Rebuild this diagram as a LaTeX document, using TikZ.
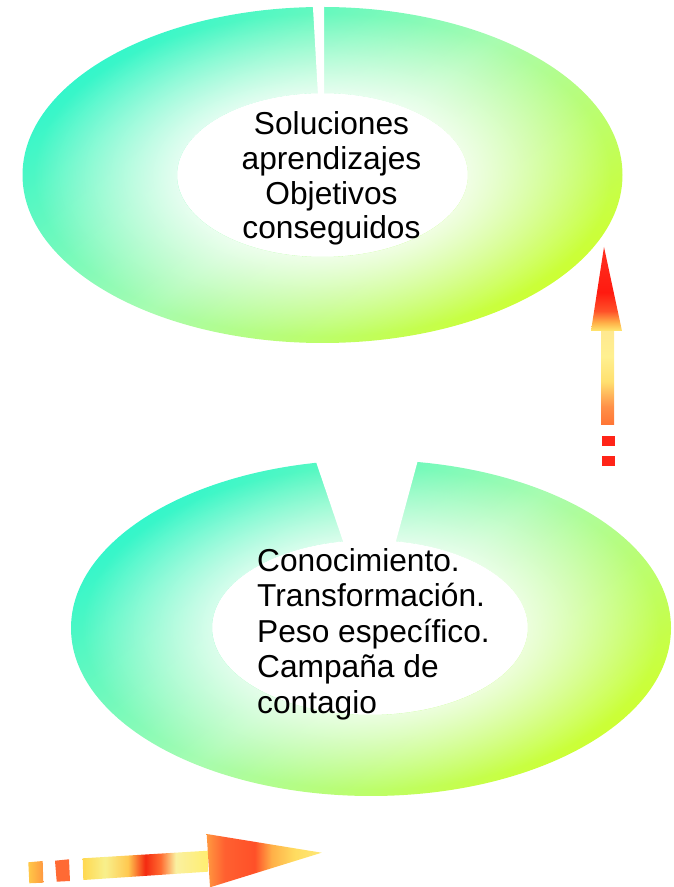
\documentclass[tikz,border=0pt]{standalone}
\usepackage{fontspec}
\setmainfont{Liberation Sans}
\usetikzlibrary{fadings}
\definecolor{ringA}{HTML}{34F6CA}
\definecolor{ringM}{HTML}{A8FCB0}
\definecolor{ringB}{HTML}{CCFF34}
\definecolor{arRed}{HTML}{FF2418}
\definecolor{vA}{HTML}{FFE870}
\definecolor{vB}{HTML}{FFB048}
\definecolor{vC}{HTML}{FF5028}
\definecolor{vD}{HTML}{FF1A10}
\definecolor{vE}{HTML}{FF3020}
\definecolor{sA}{HTML}{FF7434}
\definecolor{sB}{HTML}{FF9048}
\definecolor{sC}{HTML}{FFE070}
\definecolor{sD}{HTML}{FFF090}
\definecolor{sE}{HTML}{FFE890}
\definecolor{hA}{HTML}{FFD850}
\definecolor{hB}{HTML}{F8F08C}
\definecolor{hC}{HTML}{FFC850}
\definecolor{hD}{HTML}{F42A10}
\definecolor{hE}{HTML}{FF6A30}
\definecolor{hF}{HTML}{FAF0A0}
\definecolor{hG}{HTML}{FFEE70}
\definecolor{kA}{HTML}{FF9840}
\definecolor{kB}{HTML}{FF6030}
\definecolor{kC}{HTML}{FF5028}
\definecolor{kD}{HTML}{FFB048}
\definecolor{kE}{HTML}{FFDC60}
\definecolor{kF}{HTML}{FFE878}
\definecolor{dA}{HTML}{FFC848}
\definecolor{dB}{HTML}{FF6A34}
\pgfdeclareverticalshading{vhead}{100bp}{color(0bp)=(vA); color(25bp)=(vA); color(30bp)=(vB); color(37bp)=(vC); color(48bp)=(vD); color(75bp)=(vE); color(100bp)=(vE)}
\pgfdeclareverticalshading{vshaft}{100bp}{color(0bp)=(sA); color(25bp)=(sA); color(34.6bp)=(sB); color(47.9bp)=(sC); color(61.2bp)=(sD); color(75bp)=(sE); color(100bp)=(sE)}
\pgfdeclarehorizontalshading{hshaft}{100bp}{color(0bp)=(hA); color(25bp)=(hA); color(33.9bp)=(hB); color(43.1bp)=(hC); color(50bp)=(hD); color(56bp)=(hE); color(62.1bp)=(hF); color(75bp)=(hG); color(100bp)=(hG)}
\pgfdeclarehorizontalshading{hhead}{100bp}{color(0bp)=(kA); color(25bp)=(kA); color(32.8bp)=(kB); color(45.9bp)=(kC); color(53.3bp)=(kD); color(63.3bp)=(kE); color(75bp)=(kF); color(100bp)=(kF)}
\pgfdeclareradialshading{ringglowshade}{\pgfpointorigin}{color(0bp)=(white); color(12bp)=(white); color(24bp)=(black); color(50bp)=(black)}
\pgfdeclarefading{ringglow}{\pgfuseshading{ringglowshade}}
\tikzset{
  ringfill/.style={even odd rule, shading=axis, top color=ringA, bottom color=ringB, middle color=ringM, shading angle=38},
  ringglowfill/.style={even odd rule, fill=white, fill opacity=0.8, path fading=ringglow},
  gapfill/.style={fill=white},
  ringtext/.style={inner sep=0pt, font=\fontsize{31.7}{34.7}\selectfont, text=black},
  dashbox/.style={fill=arRed}
}
\begin{document}
\begin{tikzpicture}[x=1pt,y=1pt]
\useasboundingbox (0,0) rectangle (674,887);
% top ring
\shade[ringfill] (322.5,712) ellipse [x radius=300pt, y radius=168pt] (322.5,712) ellipse [x radius=145.5pt, y radius=82pt];
\path[ringglowfill] (322.5,712) ellipse [x radius=300pt, y radius=168pt] (322.5,712) ellipse [x radius=145.5pt, y radius=82pt];
\fill[gapfill] (312.6,886) -- (318.4,785) -- (324,785) -- (324,886) -- cycle;
% bottom ring
\shade[ringfill] (371,259) ellipse [x radius=300pt, y radius=168pt] (370,259.5) ellipse [x radius=158pt, y radius=87.5pt];
\path[ringglowfill] (371,259) ellipse [x radius=300pt, y radius=168pt] (370,259.5) ellipse [x radius=158pt, y radius=87.5pt];
\fill[gapfill] (312,437) -- (345.3,339) -- (394.1,339) -- (420.7,437) -- cycle;
% texts
\node[ringtext, align=center] (toptext) at (331.5,708.5) {Soluciones\\aprendizajes\\Objetivos\\conseguidos};
\node[ringtext, align=left, anchor=north west, font=\fontsize{31.7}{35.5}\selectfont] (bottext) at (257,339) {Conocimiento.\\Transformación.\\Peso específico.\\Campaña de\\contagio};
% vertical arrow
\shade[shading=vshaft] (601,462) rectangle (614,557);
\shade[shading=vhead] (591,556) -- (604,640) -- (622,556) -- cycle;
\fill[dashbox] (602,441) rectangle (615,451);
\fill[dashbox] (602,421) rectangle (615,431);
% horizontal arrow
\shade[left color=dA, right color=kA] (28.3,24.7) -- (42.7,26) -- (43.3,4.3) -- (29.3,3.7) -- cycle;
\fill[dB] (55,26.3) -- (69,27.7) -- (70,6) -- (56.7,5.3) -- cycle;
\shade[shading=hshaft] (82.7,28.7) -- (208,36.3) -- (208,15.3) -- (83.3,7) -- cycle;
\shade[shading=hhead] (206.7,53) -- (321.7,34.3) -- (210,-0.3) -- cycle;
\end{tikzpicture}
\end{document}
